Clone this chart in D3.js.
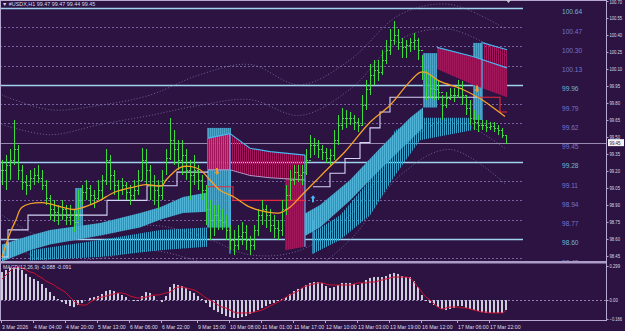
<!DOCTYPE html>
<html><head><meta charset="utf-8">
<script src="https://cdn.jsdelivr.net/npm/d3@7"></script>
<style>
html,body{margin:0;padding:0;background:#2c1342;}
svg{display:block;}
text{font-family:"Liberation Sans",Arial,sans-serif;}
</style></head><body>
<svg id="chart" width="625" height="331"></svg>
<script>
// ---- price bars (one bar per 2 hours) ----
const hi = [99.30,99.34,99.39,99.65,99.43,99.25,99.16,99.21,99.23,99.25,
  99.21,99.12,98.99,98.94,98.90,98.94,98.90,98.90,98.86,99.03,
  99.08,99.12,99.08,99.03,99.12,99.16,99.39,99.34,99.21,99.12,
  99.14,99.10,99.08,99.12,99.21,99.40,99.39,99.25,99.16,99.12,
  99.21,99.39,99.67,99.56,99.47,99.47,99.39,99.30,99.34,99.25,
  99.16,99.08,98.94,98.90,98.90,98.86,98.81,98.72,98.68,98.72,
  98.75,98.72,98.63,98.72,98.86,98.94,98.90,98.86,98.81,98.77,
  98.94,99.08,99.21,99.25,99.25,99.25,99.39,99.52,99.49,99.47,
  99.43,99.40,99.39,99.56,99.69,99.76,99.74,99.72,99.69,99.67,
  99.87,100.00,100.14,100.18,100.18,100.27,100.36,100.45,100.52,100.45,
  100.37,100.36,100.37,100.42,100.37,100.22,100.09,100.05,100.02,100.00,
  99.87,99.90,99.93,99.93,100.00,99.99,99.87,99.83,99.74,99.69,
  99.65,99.65,99.63,99.63,99.61,99.58,99.52];
const lo = [99.08,99.03,99.12,99.25,99.12,99.03,98.99,99.03,99.08,99.09,
  99.03,98.90,98.77,98.75,98.72,98.77,98.72,98.72,98.66,98.77,
  98.90,98.94,98.90,98.87,98.94,98.94,99.08,99.03,98.99,98.94,
  98.99,98.94,98.90,98.94,98.99,99.12,99.08,98.94,98.90,98.86,
  98.94,99.16,99.30,99.25,99.21,99.16,99.12,98.94,99.08,99.03,
  98.94,98.72,98.59,98.63,98.68,98.68,98.59,98.50,98.46,98.50,
  98.55,98.50,98.46,98.50,98.63,98.72,98.70,98.66,98.61,98.59,
  98.63,98.81,98.94,99.08,99.10,99.08,99.16,99.31,99.34,99.31,
  99.30,99.27,99.25,99.30,99.43,99.56,99.58,99.61,99.56,99.54,
  99.61,99.74,99.87,99.96,99.99,100.05,100.14,100.22,100.31,100.27,
  100.20,100.20,100.25,100.27,100.18,100.00,99.83,99.84,99.83,99.83,
  99.65,99.76,99.83,99.81,99.84,99.78,99.69,99.61,99.56,99.54,
  99.56,99.54,99.56,99.54,99.52,99.49,99.44];
const cl = [99.21,99.25,99.30,99.39,99.21,99.10,99.08,99.14,99.16,99.14,
  99.08,98.96,98.86,98.84,98.81,98.86,98.79,98.81,98.75,98.94,
  99.01,99.05,98.99,98.96,99.03,99.12,99.30,99.16,99.08,99.03,
  99.08,99.01,98.99,99.03,99.12,99.30,99.21,99.08,99.03,98.99,
  99.12,99.31,99.47,99.39,99.30,99.34,99.21,99.16,99.21,99.12,
  99.03,98.86,98.77,98.81,98.77,98.75,98.68,98.59,98.55,98.63,
  98.66,98.59,98.55,98.68,98.81,98.86,98.81,98.72,98.70,98.68,
  98.86,98.99,99.12,99.19,99.16,99.19,99.30,99.43,99.43,99.39,
  99.37,99.31,99.34,99.47,99.61,99.67,99.67,99.67,99.63,99.61,
  99.78,99.92,100.05,100.09,100.07,100.18,100.27,100.36,100.40,100.34,
  100.29,100.31,100.34,100.36,100.27,100.07,99.96,99.93,99.92,99.90,
  99.78,99.84,99.87,99.87,99.93,99.87,99.76,99.67,99.63,99.61,
  99.61,99.59,99.60,99.58,99.56,99.52,99.45];

// ---- MACD(12,26,9) ----
const macd = [0.246,0.264,0.282,0.290,0.290,0.264,0.229,0.202,0.185,0.167,
  0.141,0.106,0.070,0.035,0.009,-0.018,-0.035,-0.053,-0.062,-0.044,
  -0.026,0.000,0.018,0.026,0.035,0.053,0.079,0.088,0.079,0.062,
  0.044,0.026,0.000,-0.009,-0.009,0.035,0.070,0.062,0.035,0.000,
  -0.018,0.035,0.114,0.141,0.132,0.123,0.106,0.079,0.062,0.035,
  0.009,-0.026,-0.062,-0.088,-0.106,-0.123,-0.141,-0.150,-0.158,-0.158,
  -0.150,-0.141,-0.123,-0.106,-0.088,-0.070,-0.053,-0.035,-0.026,-0.009,
  0.009,0.026,0.053,0.079,0.097,0.106,0.132,0.150,0.158,0.158,
  0.150,0.123,0.106,0.114,0.132,0.150,0.150,0.150,0.141,0.132,
  0.150,0.176,0.194,0.202,0.202,0.202,0.211,0.229,0.238,0.229,
  0.211,0.202,0.202,0.167,0.114,0.044,-0.009,-0.026,-0.044,-0.062,
  -0.079,-0.088,-0.079,-0.070,-0.053,-0.053,-0.070,-0.079,-0.088,-0.097,
  -0.106,-0.114,-0.114,-0.114,-0.114,-0.114,-0.088];
const signal = [0.185,0.220,0.255,0.282,0.290,0.282,0.264,0.246,0.238,0.211,
  0.194,0.167,0.150,0.132,0.106,0.088,0.062,0.026,-0.009,-0.035,
  -0.044,-0.044,-0.018,0.000,0.018,0.026,0.035,0.044,0.053,0.062,
  0.062,0.053,0.035,0.026,0.018,0.018,0.026,0.035,0.044,0.044,
  0.053,0.062,0.070,0.097,0.114,0.114,0.106,0.097,0.088,0.070,
  0.044,0.018,0.000,-0.018,-0.044,-0.062,-0.070,-0.088,-0.106,-0.114,
  -0.114,-0.114,-0.114,-0.106,-0.097,-0.088,-0.070,-0.053,-0.035,-0.018,
  0.000,0.026,0.044,0.062,0.079,0.106,0.123,0.132,0.141,0.150,
  0.150,0.141,0.132,0.132,0.132,0.132,0.132,0.132,0.141,0.150,
  0.150,0.150,0.158,0.158,0.167,0.176,0.185,0.194,0.202,0.202,
  0.202,0.202,0.194,0.158,0.114,0.070,0.026,0.000,-0.035,-0.062,
  -0.079,-0.070,-0.062,-0.062,-0.062,-0.070,-0.070,-0.079,-0.088,-0.097,
  -0.106,-0.106,-0.114,-0.114,-0.114,-0.114,-0.091];

// ---- moving average [bar, price] ----
const ma = [[0,98.44],[2,98.65],[3.5,98.77],[5,98.88],[10,98.92],[15,98.88],[18,98.86],
  [22,98.90],[24.5,98.94],[28,99.01],[32,99.05],[36,99.08],[40,99.07],[41,99.12],
  [44.5,99.23],[47,99.24],[49.5,99.21],[52,99.12],[54.5,99.03],[58,98.97],[62,98.88],
  [66,98.84],[69.5,98.83],[72,98.88],[74.5,98.97],[77,99.06],[79.5,99.15],[82,99.24],
  [85.75,99.37],[92,99.63],[97,99.78],[101.25,99.96],[104.5,100.07],[106,100.07],
  [109.5,99.99],[114.5,99.93],[119.5,99.84],[122.75,99.76],[125.75,99.68]];

// ---- dotted envelopes [bar, price] ----
const envUp2 = [[0,99.87],[12,99.74],[24.5,99.78],[37,99.87],[49.5,100.05],[62,100.14],[74.5,99.96],[87,100.18],[99.5,100.58],[112,100.67],[126,100.45]];
const envUp1 = [[0,99.61],[12,99.52],[24.5,99.61],[37,99.69],[49.5,99.78],[62,99.83],[74.5,99.69],[87,99.92],[99.5,100.36],[112,100.45],[126,100.22]];
const envDn1 = [[0,98.81],[12,98.59],[24.5,98.63],[37,98.72],[49.5,98.63],[62,98.46],[74.5,98.50],[87,98.81],[99.5,99.39],[112,99.65],[126,99.39]];
const envDn2 = [[0,98.59],[12,98.40],[24.5,98.43],[37,98.50],[49.5,98.40],[62,98.28],[74.5,98.28],[87,98.59],[99.5,99.16],[112,99.39],[126,99.08]];

// ---- trend clouds [bar, top, bottom] ----
const upSolid1 = [[0,98.55,98.40],[7,98.63,98.50],[12,98.68,98.55],[24.5,98.74,98.63],[34.5,98.83,98.70],[39.5,98.88,98.77],[45.25,98.97,98.83],[51.25,99.01,98.84]];
const upHatch1 = [[7,98.50,98.41],[24.5,98.59,98.44],[39.5,98.68,98.50],[51.25,98.70,98.53]];
const upSolid2 = [[72,98.75,98.55],[79.5,98.90,98.70],[87,99.12,98.94],[94.5,99.40,99.21],[102,99.67,99.47],[105.25,99.76,99.58]];
const upHatch2 = [[77.75,98.66,98.47],[84.5,98.81,98.59],[92,99.12,98.81],[98.25,99.56,99.16],[104.5,99.67,99.47],[117.5,99.67,99.56]];
const dnHatch1 = [[51.5,99.49,99.21],[57,99.53,99.21],[62,99.40,99.16],[67,99.37,99.14],[75.75,99.34,99.12]];
const dnSolid1 = [[70.75,99.14,98.50],[75.75,99.14,98.53]];
const dnSolid2 = [[108.75,100.29,100.10],[117.75,100.21,99.96],[126.25,100.11,99.85]];
const dnHatch2 = [[120.25,100.33,100.11],[126.25,100.27,100.05]];
// teal blocks [bar0, bar1, top, bottom]
const tealBlocks = [[51.25,57.25,99.58,98.70],[18.25,20.25,99.05,98.68],[105.25,108.75,100.24,99.76],[117.75,120,100.33,99.65]];
// box edges [bar, top, bottom]
const boxEdges = [[57,99.53,98.47],[75.75,99.34,98.53],[77.75,98.77,98.47],[120,100.34,99.65]];

// ---- trailing steps [bar, price] ----
const stepUp1 = [[0,98.44],[1.5,98.68],[6.5,98.81],[26.25,98.94],[36.25,99.07],[43.75,99.19],[51.5,99.19]];
const stepDn1 = [[51.5,99.06],[57.75,98.94],[75.75,98.94]];
const stepUp2 = [[77.75,99.06],[82,99.18],[85.75,99.31],[89.5,99.45],[92,99.58],[94.5,99.72],[97,99.85],[118.75,99.85]];
const stepDn2 = [[118.75,99.85],[124.5,99.72],[126.25,99.72]];

// arrows [bar, price, dir]
const arrows = [[53.75,99.19,"down"],[118.75,99.92,"down"],[77.75,98.96,"up"]];

// ---- levels & axes ----
const levels = [100.64,100.47,100.30,100.13,99.96,99.79,99.62,99.45,99.28,99.11,98.94,98.77,98.60,98.43];
const solidLevels = [100.64,99.96,99.28,98.60];
const priceTicks = [100.70,100.55,100.40,100.25,100.10,99.95,99.80,99.65,99.50,99.35,99.20,99.05,98.90,98.75,98.60,98.45];
const timeBars = [0,8,16,24,32,40,49,57,65,73,81,89,97,105,114,122];
const timeLabels = ["3 Mar 2026","4 Mar 04:00","4 Mar 20:00","5 Mar 13:00","6 Mar 06:00","6 Mar 22:00","9 Mar 15:00","10 Mar 08:00","11 Mar 01:00","11 Mar 17:00","12 Mar 10:00","13 Mar 03:00","13 Mar 19:00","16 Mar 12:00","17 Mar 06:00","17 Mar 22:00"];
const macdTicks = [0.299,0,-0.166];

const svg = d3.select("#chart");
const x = d3.scaleLinear().domain([0,126]).range([2,506]);
const y = d3.scaleLinear().domain([98.40,100.70]).range([261.6,1.0]);
const ym = d3.scaleLinear().domain([-0.166,0.299]).range([318.9,266]);
const axisX = 606;

const defs = svg.append("defs");
defs.append("clipPath").attr("id","main").append("rect").attr("x",0).attr("y",1).attr("width",axisX).attr("height",260);
function hatch(id, col, bg) {
  const p = defs.append("pattern").attr("id",id).attr("width",2).attr("height",4).attr("patternUnits","userSpaceOnUse");
  if (bg) p.append("rect").attr("width",2).attr("height",4).attr("fill",bg);
  p.append("rect").attr("width",1).attr("height",4).attr("fill",col);
}
hatch("hTeal","#3aa3cc",null);
hatch("hCrim","#a3155c",null);
hatch("sTeal","#4fb4d8","#358fb8");
hatch("sCrim","#a0185a","#86124c");

svg.append("rect").attr("width",625).attr("height",331).attr("fill","#2c1342");

const g = svg.append("g").attr("clip-path","url(#main)");

// levels
levels.forEach(v => {
  const solid = solidLevels.includes(v);
  g.append("line").attr("x1",0).attr("x2",v===99.45?axisX:523)
    .attr("y1",Math.round(y(v))+0.5).attr("y2",Math.round(y(v))+0.5)
    .attr("stroke", v===99.45 ? "#b4aacb" : solid ? "#9fd2ee" : "#8a78bc")
    .attr("stroke-width", solid ? 1.3 : 0.8)
    .attr("stroke-dasharray", solid || v===99.45 ? null : "2,2");
  g.append("text").attr("x",562).attr("y",y(v)+6.5)
    .attr("font-size",6.6).attr("fill", solid ? "#6fb3cf" : "#7474cc").text(v.toFixed(2));
});

// envelopes
const envLine = d3.line().x(d=>x(d[0])).y(d=>y(d[1])).curve(d3.curveCatmullRom);
[envUp2,envUp1,envDn1,envDn2].forEach(e => {
  g.append("path").attr("d",envLine(e)).attr("fill","none")
    .attr("stroke","#8f7fb8").attr("stroke-width",0.7).attr("stroke-dasharray","1,2");
});

// clouds
const area = d3.area().x(d=>x(d[0])).y0(d=>y(d[2])).y1(d=>y(d[1]));
const topLine = d3.line().x(d=>x(d[0])).y(d=>y(d[1]));
const botLine = d3.line().x(d=>x(d[0])).y(d=>y(d[2]));
[[upHatch1,"url(#hTeal)"],[upHatch2,"url(#hTeal)"],[upSolid1,"url(#sTeal)"],[upSolid2,"url(#sTeal)"]].forEach(([d,f]) => {
  g.append("path").attr("d",area(d)).attr("fill",f);
});
tealBlocks.forEach(b => {
  g.append("rect").attr("x",x(b[0])).attr("width",x(b[1])-x(b[0]))
    .attr("y",y(b[2])).attr("height",y(b[3])-y(b[2])).attr("fill","url(#sTeal)").attr("opacity",0.9);
});
[[dnHatch1,"url(#hCrim)"],[dnHatch2,"url(#hCrim)"],[dnSolid1,"url(#sCrim)"],[dnSolid2,"url(#sCrim)"]].forEach(([d,f]) => {
  g.append("path").attr("d",area(d)).attr("fill",f);
});
[dnHatch1,dnHatch2,dnSolid2].forEach(d => {
  g.append("path").attr("d",topLine(d)).attr("fill","none").attr("stroke","#45b9ee").attr("stroke-width",1.2);
});
g.append("path").attr("d",botLine(dnHatch1)).attr("fill","none").attr("stroke","#b8a8d8").attr("stroke-width",0.9);
boxEdges.forEach(b => {
  g.append("line").attr("x1",x(b[0])).attr("x2",x(b[0])).attr("y1",y(b[1])).attr("y2",y(b[2]))
    .attr("stroke","#45b9ee").attr("stroke-width",1.2);
});

// steps
const step = d3.line().x(d=>x(d[0])).y(d=>y(d[1])).curve(d3.curveStepAfter);
[[stepUp1,"#d4d4f4"],[stepUp2,"#d4d4f4"],[stepDn1,"#e8283c"],[stepDn2,"#e8283c"]].forEach(([d,c]) => {
  g.append("path").attr("d",step(d)).attr("fill","none").attr("stroke",c).attr("stroke-width",1.1);
});

// price bars
const bars = g.append("g").attr("stroke","#3ddc3d").attr("stroke-width",1).attr("shape-rendering","crispEdges");
hi.forEach((h,i) => {
  const xx = Math.round(x(i)) + 0.5;
  const op = i === 0 ? cl[0] : cl[i-1];
  bars.append("line").attr("x1",xx).attr("x2",xx).attr("y1",y(h)).attr("y2",y(lo[i]));
  bars.append("line").attr("x1",xx-1.5).attr("x2",xx).attr("y1",Math.round(y(op))+0.5).attr("y2",Math.round(y(op))+0.5);
  bars.append("line").attr("x1",xx).attr("x2",xx+1.5).attr("y1",Math.round(y(cl[i]))+0.5).attr("y2",Math.round(y(cl[i]))+0.5);
});

// moving average
g.append("path").attr("d",d3.line().x(d=>x(d[0])).y(d=>y(d[1])).curve(d3.curveCatmullRom)(ma))
  .attr("fill","none").attr("stroke","#f5a228").attr("stroke-width",1.3);

// arrows
arrows.forEach(([b,p,dir]) => {
  const ax = x(b), ay = y(p), s = dir==="down" ? 1 : -1;
  const col = dir==="down" ? "#f39a2a" : "#49b6f0";
  g.append("path").attr("fill",col)
    .attr("d",`M${ax-1},${ay-4*s}L${ax+1},${ay-4*s}L${ax+1},${ay}L${ax+2.5},${ay}L${ax},${ay+3*s}L${ax-2.5},${ay}L${ax-1},${ay}Z`);
});

// frame & separators
svg.append("line").attr("x1",0).attr("x2",axisX).attr("y1",0.5).attr("y2",0.5).attr("stroke","#b8a8d0");
svg.append("line").attr("x1",0.5).attr("x2",0.5).attr("y1",0).attr("y2",321).attr("stroke","#b8a8d0");
svg.append("rect").attr("x",0).attr("y",261).attr("width",axisX).attr("height",2.5).attr("fill","#ab9cc8");
svg.append("line").attr("x1",axisX+0.5).attr("x2",axisX+0.5).attr("y1",0).attr("y2",321).attr("stroke","#b8a8d0");
svg.append("line").attr("x1",0).attr("x2",axisX).attr("y1",320.5).attr("y2",320.5).attr("stroke","#b8a8d0");

// title
svg.append("text").attr("x",2).attr("y",6).attr("font-size",5.4).attr("fill","#d8d8e8")
  .text("\u25BC #USDX,H1  99.47 99.47 99.44 99.45");
svg.append("path").attr("d","M506,0L511,0L508.5,3Z").attr("fill","#c8c8d8");

// right-hand axis labels, squeezed to the narrow margin
function fitAxis(sel, fmt) {
  sel.select(".domain").remove();
  sel.selectAll("line").attr("stroke","#b8a8d0");
  sel.selectAll("text").attr("font-size",5).attr("fill","#dcdce8").attr("x",3.5)
    .attr("font-family","Liberation Sans, Arial")
    .attr("textLength", d => fmt(d).length * 2.1).attr("lengthAdjust","spacingAndGlyphs");
}
const fmtP = d3.format(".2f");
const ra = svg.append("g").attr("transform",`translate(${axisX},0)`)
  .call(d3.axisRight(y).tickValues(priceTicks).tickSize(2.5).tickFormat(fmtP));
fitAxis(ra, fmtP);
ra.selectAll(".tick").filter(d => d===100.70).select("text").attr("dy","0.55em");
// current price box
svg.append("rect").attr("x",axisX+2).attr("y",y(99.45)-3.5).attr("width",16).attr("height",7).attr("fill","#f4f4f8");
svg.append("text").attr("x",axisX+3.5).attr("y",y(99.45)+2).attr("font-size",5).attr("fill","#2c1342")
  .attr("textLength",11).attr("lengthAdjust","spacingAndGlyphs").text("99.45");

// MACD
const mg = svg.append("g");
mg.append("line").attr("x1",0).attr("x2",axisX).attr("y1",ym(0)+0.5).attr("y2",ym(0)+0.5)
  .attr("stroke","#a898c8").attr("stroke-width",0.8).attr("stroke-dasharray","2,2");
mg.selectAll("rect.h").data(macd).enter().append("rect").attr("class","h")
  .attr("x",(d,i)=>Math.round(x(i))-1).attr("width",2)
  .attr("y",d=>Math.min(ym(d),ym(0))).attr("height",d=>Math.abs(ym(d)-ym(0)))
  .attr("fill","#cdcddc");
mg.append("path").attr("d",d3.line().x((d,i)=>x(i)).y(d=>ym(d)).curve(d3.curveMonotoneX)(signal))
  .attr("fill","none").attr("stroke","#c8102e").attr("stroke-width",1);
mg.append("text").attr("x",3).attr("y",269).attr("font-size",5.2).attr("fill","#dcdce8")
  .text("MACD(12,26,9) -0.088 -0.091");
const fmtM = d => d===0 ? "0.00" : d3.format(".3f")(d);
const ma2 = svg.append("g").attr("transform",`translate(${axisX},0)`)
  .call(d3.axisRight(ym).tickValues(macdTicks).tickSize(2.5).tickFormat(fmtM));
fitAxis(ma2, fmtM);

// time axis
const ta = svg.append("g");
timeBars.forEach((b,k) => {
  const tx = Math.round(x(b)) - 1;
  ta.append("line").attr("x1",tx+0.5).attr("x2",tx+0.5).attr("y1",320).attr("y2",323).attr("stroke","#b8a8d0");
  ta.append("text").attr("x",tx+1).attr("y",328.5).attr("font-size",5.2).attr("fill","#dcdce8").text(timeLabels[k]);
});
</script>
</body></html>
